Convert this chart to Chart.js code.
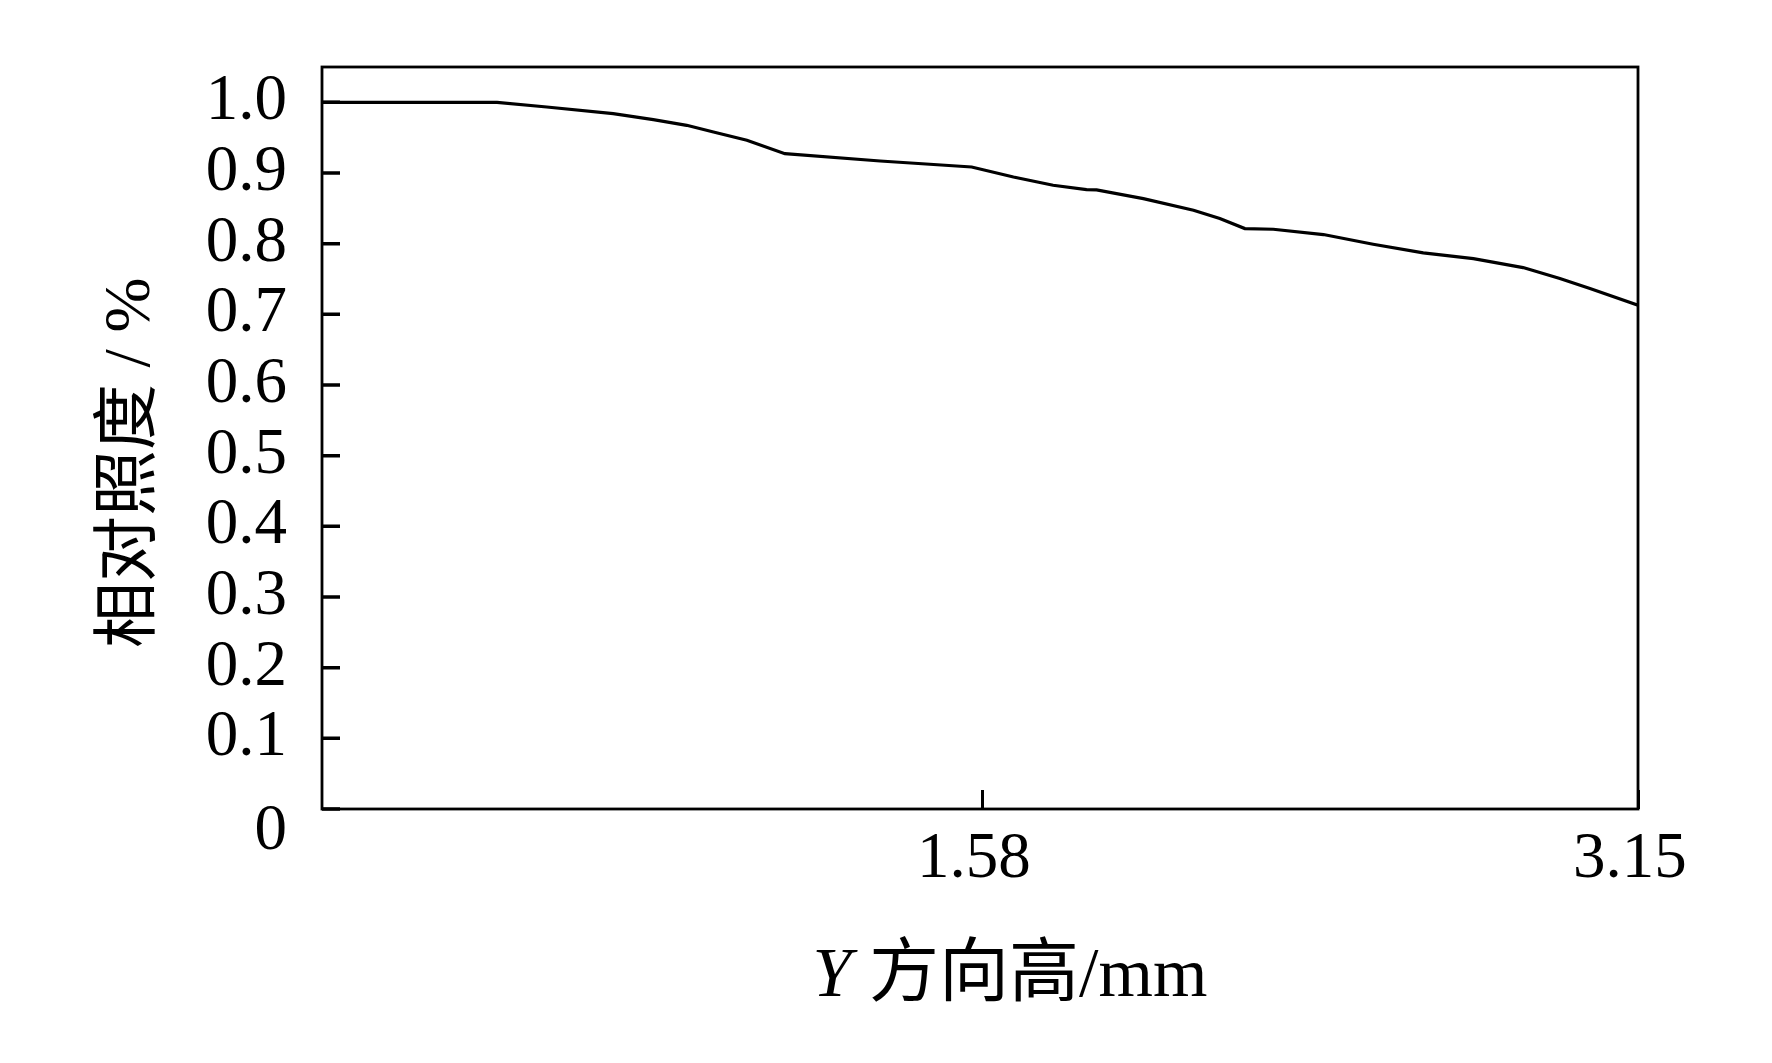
<!DOCTYPE html>
<html><head><meta charset="utf-8">
<script src="https://cdn.jsdelivr.net/npm/chart.js@4"></script>
<style>html,body{margin:0;padding:0;background:#fff}canvas{display:block}</style>
</head><body>
<canvas id="c" width="1772" height="1063"></canvas>
<script>
// Data
const xValues = [0, 0.419, 0.538, 0.697, 0.793, 0.873, 0.937, 1.017, 1.108, 1.336, 1.555, 1.655, 1.750, 1.830, 1.854, 1.966, 2.086, 2.149, 2.209, 2.277, 2.397, 2.516, 2.636, 2.756, 2.875, 2.963, 3.035, 3.15];
const yValues = [1.0, 1.0, 0.9934, 0.984, 0.9755, 0.9675, 0.958, 0.9463, 0.9274, 0.917, 0.9085, 0.8944, 0.8826, 0.8765, 0.876, 0.8638, 0.8472, 0.8355, 0.8214, 0.8204, 0.8129, 0.7992, 0.7869, 0.7789, 0.7662, 0.7506, 0.7365, 0.7129];
const yTickValues = [0, 0.1, 0.2, 0.3, 0.4, 0.5, 0.6, 0.7, 0.8, 0.9, 1.0];
const xTickValues = [1.58, 3.15];
const yTitle = '相对照度 / %   ';
const xTitleItalic = 'Y';
const xTitleRest = ' 方向高/mm';

const SERIF = '"Liberation Serif", "Times New Roman", "Noto Sans CJK SC", serif';

const framePlugin = {
  id: 'frame',
  afterDraw(chart) {
    const {ctx, chartArea: a} = chart;
    const ys = chart.scales.y;
    ctx.save();
    ctx.strokeStyle = '#000';
    ctx.lineWidth = 2.8;
    ctx.strokeRect(a.left, a.top, a.right - a.left, a.bottom - a.top);
    // inward y tick marks, placed by the y scale
    ctx.lineWidth = 3.5;
    ctx.beginPath();
    yTickValues.forEach(v => {
      const py = ys.getPixelForValue(v);
      ctx.moveTo(a.left, py);
      ctx.lineTo(a.left + 18, py);
    });
    ctx.stroke();
    // x-axis title with italic Y
    const fontI = 'italic 70px ' + SERIF;
    const fontR = '70px ' + SERIF;
    ctx.font = fontI;
    const w1 = ctx.measureText(xTitleItalic).width;
    ctx.font = fontR;
    const w2 = ctx.measureText(xTitleRest).width;
    const cx = (a.left + a.right) / 2 + 30;
    let x = cx - (w1 + w2) / 2;
    const y = a.bottom + 187;
    ctx.fillStyle = '#000';
    ctx.textBaseline = 'alphabetic';
    ctx.textAlign = 'left';
    ctx.font = fontI;
    ctx.fillText(xTitleItalic, x, y);
    ctx.font = fontR;
    ctx.fillText(xTitleRest, x + w1, y);
    ctx.restore();
  }
};

new Chart(document.getElementById('c'), {
  type: 'line',
  data: {
    datasets: [{
      data: xValues.map((v, i) => ({x: v, y: yValues[i]})),
      borderColor: '#000',
      borderWidth: 3.2,
      pointRadius: 0,
      tension: 0,
      fill: false
    }]
  },
  options: {
    responsive: false,
    animation: false,
    devicePixelRatio: 1,
    layout: {padding: {left: 0, top: 67, right: 134, bottom: 0}},
    plugins: {legend: {display: false}, tooltip: {enabled: false}},
    scales: {
      x: {
        type: 'linear',
        min: 0,
        max: 3.15,
        afterBuildTicks: s => { s.ticks = xTickValues.map(v => ({value: v})); },
        afterFit: s => { s.height = 254; },
        ticks: {
          autoSkip: false,
          maxRotation: 0,
          color: '#000',
          padding: 31,
          font: {family: SERIF, size: 65},
          callback: v => Number(v).toFixed(2) + ' '
        },
        grid: {drawOnChartArea: false, drawTicks: true, tickLength: -19, tickWidth: 3, tickColor: '#000'},
        border: {display: false}
      },
      y: {
        type: 'linear',
        min: 0,
        max: 1.05,
        afterBuildTicks: s => { s.ticks = yTickValues.map(v => ({value: v})); },
        afterFit: s => { s.width = 322; },
        ticks: {
          autoSkip: false,
          color: '#000',
          padding: 35,
          font: {family: SERIF, size: 65, lineHeight: 0.69},
          callback: v => v === 0 ? ['', '0'] : Number(v).toFixed(1)
        },
        grid: {drawOnChartArea: false, drawTicks: false},
        border: {display: false},
        title: {
          display: true,
          text: yTitle,
          color: '#000',
          font: {family: SERIF, size: 66, lineHeight: 1},
          padding: {top: 99, bottom: 0}
        }
      }
    }
  },
  plugins: [framePlugin]
});
</script>
</body></html>
